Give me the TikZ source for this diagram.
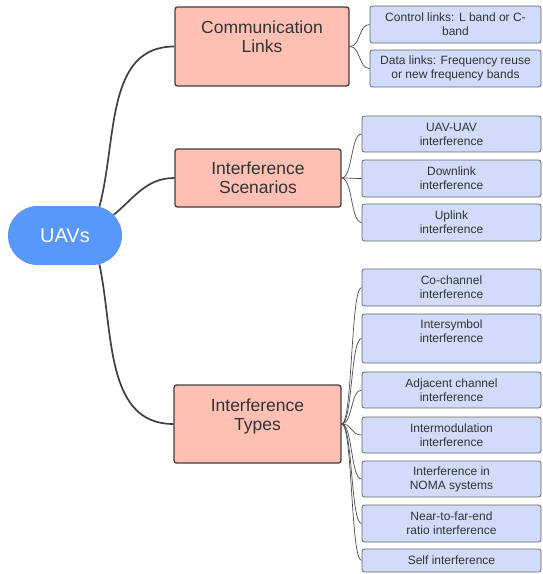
\documentclass[tikz,border=0pt]{standalone}
\usepackage{fontspec}
\setmainfont{Liberation Sans}
\usepackage{xcolor}
\usepackage{tikz}
\usetikzlibrary{
    shapes.misc,
    positioning
}
\definecolor{rootblue}{RGB}{88,152,248}
\definecolor{topicfill}{RGB}{255,192,180}
\definecolor{leaffill}{RGB}{208,220,250}
\definecolor{inkgrey}{RGB}{64,64,64}

\begin{document}
\begin{tikzpicture}[
      x=1pt, y=-1pt,
      root/.style={rounded rectangle, fill=rootblue, text=white, inner sep=0pt,
          minimum width=114pt, minimum height=59pt,
          font=\fontsize{20}{22}\selectfont},
      topic/.style={rectangle, draw=inkgrey, line width=1.3pt, rounded corners=2.5pt,
          fill=topicfill, text=black!80, align=center, inner sep=0pt,
          font=\fontsize{17.5}{19}\selectfont},
      leaf/.style={rectangle, draw=black!60, line width=0.8pt, rounded corners=2.5pt,
          fill=leaffill, text=black!80, align=center, inner sep=0pt,
          minimum width=179pt, font=\fontsize{12}{14}\selectfont},
      branch/.style={line width=1.7pt, draw=inkgrey},
      twig/.style={line width=0.7pt, draw=black!70}
    ]
    \useasboundingbox (0,0) rectangle (543,574);

    \node[root] (uavs) at (65,235.5) {UAVs};

    \node[topic, minimum width=174pt, minimum height=79pt] (comm) at (262,46.5)
        {Communication\\Links\\\mbox{}};
    \node[topic, minimum width=166pt, minimum height=58pt] (scen) at (258,178)
        {Interference\\Scenarios};
    \node[topic, minimum width=167pt, minimum height=78pt] (types) at (257.5,424)
        {Interference\\Types\\\mbox{}};

    % communication links
    \node[leaf, minimum width=171pt, minimum height=37pt] (ctrl) at (455.5,24.5)
        {Control links: L band or C-\\band};
    \node[leaf, minimum width=171pt, minimum height=37pt] (data) at (455.5,68.5)
        {Data links: Frequency reuse\\or new frequency bands};

    % interference scenarios
    \node[leaf, minimum height=36pt] (u2u) at (451.5,134) {UAV-UAV\\interference};
    \node[leaf, minimum height=37pt] (down) at (451.5,178.5) {Downlink\\interference};
    \node[leaf, minimum height=37pt] (up) at (451.5,222.5) {Uplink\\interference};

    % interference types
    \node[leaf, minimum height=37pt] (cochan) at (451.5,287.5) {Co-channel\\interference};
    \node[leaf, minimum height=49pt] (isym) at (451.5,338.5) {Intersymbol\\interference\\\mbox{}};
    \node[leaf, minimum height=36pt] (adj) at (451.5,390) {Adjacent channel\\interference};
    \node[leaf, minimum height=36pt] (imod) at (451.5,435) {Intermodulation\\interference};
    \node[leaf, minimum height=36pt] (noma) at (451.5,479) {Interference in\\NOMA systems};
    \node[leaf, minimum height=37pt] (nfar) at (451.5,523.5) {Near-to-far-end\\ratio interference};
    \node[leaf, minimum height=23pt] (self) at (451.5,560.5) {Self interference};

    \draw[branch] (uavs.40) to[out=75, in=180] (comm.west);
    \draw[branch] (uavs.23) to[out=40, in=180] (scen.west);
    \draw[branch] (uavs.-40) to[out=-78, in=180] (types.west);

    \foreach \c in {ctrl, data}
        \draw[twig] (comm.east) .. controls +(11,0) and +(-11,0) .. (\c.west);
    \foreach \c in {u2u, down, up}
        \draw[twig] (scen.east) .. controls +(11,0) and +(-11,0) .. (\c.west);
    \foreach \c in {cochan, isym, adj, imod, noma, nfar, self}
        \draw[twig] (types.east) .. controls +(11,0) and +(-11,0) .. (\c.west);
  \end{tikzpicture}
\end{document}
